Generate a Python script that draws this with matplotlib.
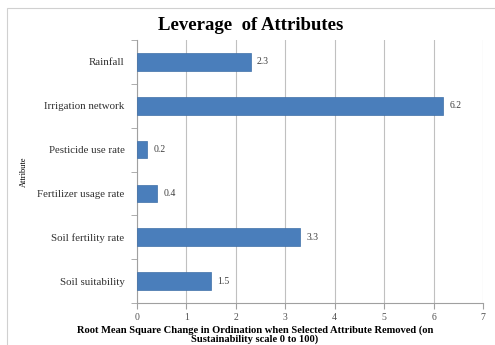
import matplotlib.pyplot as plt
from matplotlib.patches import Rectangle
import numpy as np

plt.rcParams['font.family'] = ['Liberation Serif', 'DejaVu Serif']

attributes = ["Rainfall", "Irrigation network", "Pesticide use rate",
              "Fertilizer usage rate", "Soil fertility rate", "Soil suitability"]
values = [2.3, 6.2, 0.2, 0.4, 3.3, 1.5]
xticks = [0, 1, 2, 3, 4, 5, 6, 7]

fig = plt.figure(figsize=(4.95, 3.45), dpi=100)
fig.patches.append(Rectangle((7/495, -0.1), 1.2, 1 - 8/345 + 0.1, transform=fig.transFigure,
                             fill=False, edgecolor="#d0d0d0", linewidth=0.8))
ax = fig.add_axes([137/495, 42/345, 346/495, 263/345])

y = np.arange(len(attributes))
ax.barh(y, values, height=0.4, color="#4a7ebb", edgecolor="#3f6fa8", linewidth=0.5, zorder=3)
for yi, v in zip(y, values):
    ax.text(v + 0.13, yi, str(v), va="center", ha="left", fontsize=7, color="#404040")

ax.set_ylim(len(attributes) - 0.5, -0.5)
ax.set_xlim(0, 7)
ax.set_xticks(xticks)
ax.set_xticklabels([str(t) for t in xticks], fontsize=7, color="#505050")
ax.set_yticks(y)
ax.set_yticklabels(attributes, fontsize=7.8, color="#303030")
ax.set_yticks(np.arange(-0.5, len(attributes), 1), minor=True)
ax.tick_params(axis="y", which="major", length=0, pad=9)
ax.tick_params(axis="y", which="minor", length=4, color="#a0a0a0", direction="out")
ax.tick_params(axis="x", length=4, color="#a0a0a0", direction="out", pad=3)
ax.grid(axis="x", color="#c0c0c0", linewidth=0.8, zorder=0)
for s in ["top", "right"]:
    ax.spines[s].set_visible(False)
ax.spines["left"].set_color("#a0a0a0")
ax.spines["bottom"].set_color("#a0a0a0")

fig.suptitle("Leverage  of Attributes", x=0.507, y=1 - 25/345, va="center",
             fontsize=13.5, fontweight="bold")
ax.set_ylabel("Attribute", fontsize=6)
ax.yaxis.set_label_coords(-0.315, 0.5)
ax.set_xlabel("Root Mean Square Change in Ordination when Selected Attribute Removed (on\nSustainability scale 0 to 100)",
              fontsize=7.6, fontweight="bold", linespacing=0.95)
ax.xaxis.set_label_coords(0.341, -0.085)

fig.savefig("out.png", dpi=100)
